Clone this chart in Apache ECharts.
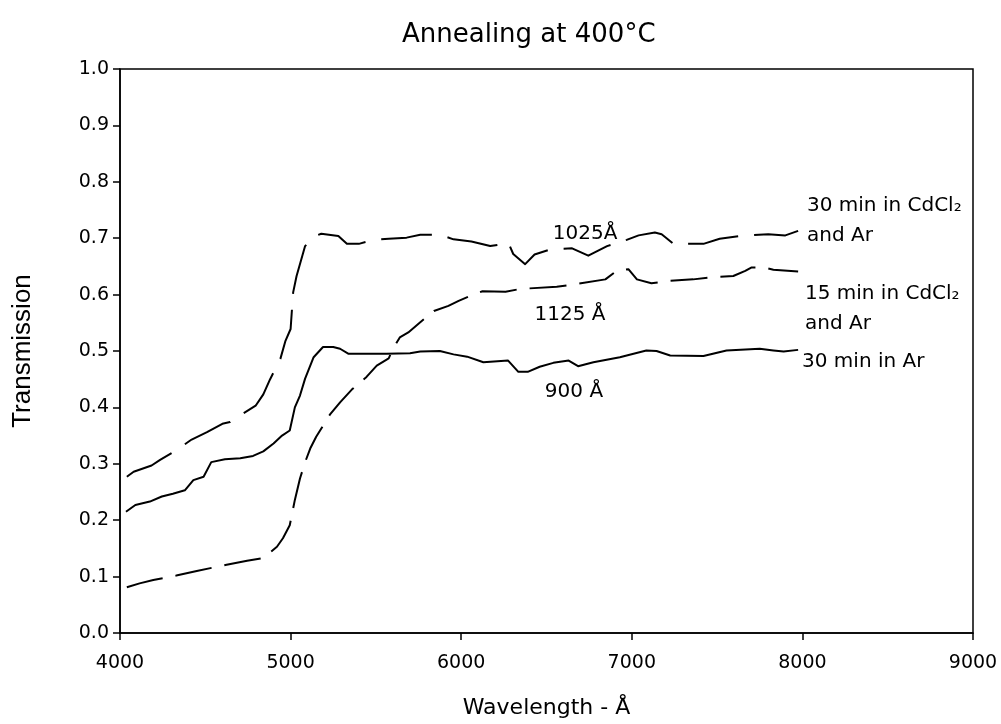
<!DOCTYPE html>
<html>
<head>
<meta charset="utf-8">
<script src="https://cdn.jsdelivr.net/npm/echarts@6/dist/echarts.min.js"></script>
<style>
  html, body { margin: 0; padding: 0; background: #fff; }
  #chart { width: 1001px; height: 724px; }
</style>
</head>
<body>
<div id="chart"></div>
<script>
// Transmission spectra of films annealed at 400 °C (wavelength in Å)

// 30 min in CdCl2 and Ar  (1025 Å)
const wlCdCl30 = [4040, 4080, 4185, 4235, 4330, 4420, 4510, 4600, 4645, 4700, 4795, 4840, 4880, 4940, 4970,
  5000, 5015, 5035, 5085, 5135, 5180, 5280, 5330, 5400, 5485, 5575, 5680, 5760, 5875, 5955, 6060,
  6170, 6230, 6275, 6305, 6375, 6430, 6520, 6650, 6745, 6855, 6970, 7040, 7135, 7175, 7245, 7420,
  7515, 7635, 7800, 7900, 7975];
const trCdCl30 = [0.277, 0.286, 0.297, 0.307, 0.324, 0.343, 0.356, 0.371, 0.374, 0.385, 0.403, 0.423, 0.450, 0.486, 0.518,
  0.539, 0.604, 0.633, 0.686, 0.703, 0.708, 0.704, 0.690, 0.690, 0.697, 0.699, 0.701, 0.706, 0.706, 0.698, 0.694,
  0.686, 0.689, 0.693, 0.672, 0.654, 0.671, 0.680, 0.682, 0.669, 0.686, 0.697, 0.705, 0.710, 0.707, 0.690, 0.690,
  0.699, 0.704, 0.707, 0.705, 0.713];

// 15 min in CdCl2 and Ar  (1125 Å)
const wlCdCl15 = [4040, 4115, 4195, 4330, 4450, 4545, 4625, 4745, 4840, 4920, 4955, 4995, 5025, 5055, 5085,
  5115, 5150, 5230, 5290, 5360, 5445, 5505, 5575, 5600, 5640, 5690, 5760, 5840, 5925, 5985, 6055,
  6125, 6260, 6345, 6560, 6640, 6845, 6910, 6980, 7030, 7115, 7205, 7360, 7475, 7595, 7665, 7700,
  7780, 7830, 7975];
const trCdCl15 = [0.081, 0.088, 0.094, 0.102, 0.110, 0.116, 0.121, 0.128, 0.133, 0.153, 0.168, 0.191, 0.236, 0.274, 0.303,
  0.327, 0.348, 0.387, 0.409, 0.432, 0.454, 0.474, 0.487, 0.504, 0.524, 0.533, 0.551, 0.571, 0.580, 0.589, 0.598,
  0.606, 0.605, 0.610, 0.614, 0.617, 0.627, 0.642, 0.645, 0.627, 0.620, 0.624, 0.627, 0.631, 0.633, 0.642, 0.648,
  0.648, 0.644, 0.641];

// 30 min in Ar  (900 Å)
const wlAr30 = [4035, 4090, 4175, 4245, 4310, 4380, 4430, 4490, 4535, 4615, 4705, 4780, 4840, 4900, 4950,
  4995, 5025, 5055, 5085, 5135, 5190, 5250, 5290, 5340, 5560, 5700, 5760, 5875, 5955, 6035, 6130,
  6275, 6335, 6390, 6460, 6540, 6630, 6685, 6775, 6930, 7085, 7145, 7225, 7420, 7555, 7750, 7830,
  7890, 7975];
const trAr30 = [0.215, 0.227, 0.233, 0.242, 0.247, 0.253, 0.271, 0.277, 0.303, 0.308, 0.310, 0.314, 0.322, 0.336, 0.350,
  0.359, 0.400, 0.421, 0.451, 0.489, 0.507, 0.507, 0.504, 0.495, 0.495, 0.496, 0.499, 0.500, 0.494, 0.490, 0.480,
  0.483, 0.463, 0.463, 0.472, 0.479, 0.483, 0.473, 0.480, 0.489, 0.501, 0.500, 0.492, 0.491, 0.501, 0.504, 0.501,
  0.499, 0.502];

// Text
const titleText = 'Annealing at 400°C';
const xName = 'Wavelength - Å';
const yName = 'Transmission';
const seriesNames = ['30 min in CdCl₂\nand Ar', '15 min in CdCl₂\nand Ar', '30 min in Ar'];
const thicknessNames = ['1025Å', '1125 Å', '900 Å'];

const zip = (xs, ys) => xs.map((x, i) => [x, ys[i]]);

const FONT = 'DejaVu Sans';
const black = '#000';

function lineSeries(name, xs, ys, dash) {
  return {
    type: 'line',
    name: name,
    data: zip(xs, ys),
    showSymbol: false,
    symbol: 'none',
    smooth: false,
    silent: true,
    lineStyle: { color: black, width: 2, type: dash, cap: 'butt', join: 'round' },
    z: 3
  };
}

// Text-only scatter: invisible symbols carrying annotation labels
function textSeries(items, position, lineHeight) {
  return {
    type: 'scatter',
    silent: true,
    symbolSize: 0,
    itemStyle: { opacity: 1, color: black },
    data: items.map(it => ({ value: it.at, label: { formatter: it.text, color: black, opacity: 1 } })),
    label: {
      show: true,
      position: position,
      distance: 0,
      color: black,
      opacity: 1,
      fontFamily: FONT,
      fontSize: 20,
      lineHeight: lineHeight,
      align: position === 'right' ? 'left' : 'center'
    },
    z: 4
  };
}

const chart = echarts.init(document.getElementById('chart'), null, { renderer: 'canvas' });

const option = {
  animation: false,
  backgroundColor: '#fff',
  title: {
    text: titleText,
    left: 397,
    top: 17,
    textStyle: { fontFamily: FONT, fontSize: 26, fontWeight: 'normal', color: black }
  },
  grid: {
    left: 120, right: 28, top: 69, bottom: 89,
    show: true, borderColor: black, borderWidth: 1.5, backgroundColor: 'transparent'
  },
  xAxis: {
    type: 'value',
    min: 4000, max: 9000, interval: 1000,
    name: xName,
    nameLocation: 'middle',
    nameGap: 64,
    nameTextStyle: { fontFamily: FONT, fontSize: 22, color: black },
    axisLine: { show: true, onZero: false, lineStyle: { color: black, width: 1.5 } },
    axisTick: { show: true, inside: false, length: 7, lineStyle: { color: black, width: 1.5 } },
    axisLabel: { margin: 21, fontFamily: FONT, fontSize: 19, color: black, formatter: v => String(v) },
    splitLine: { show: false }
  },
  yAxis: {
    type: 'value',
    min: 0, max: 1, interval: 0.1,
    name: yName,
    nameLocation: 'middle',
    nameGap: 84,
    nameRotate: 90,
    nameTextStyle: { fontFamily: 'Liberation Sans', fontSize: 26, color: black },
    axisLine: { show: true, onZero: false, lineStyle: { color: black, width: 1.5 } },
    axisTick: { show: true, inside: false, length: 7, lineStyle: { color: black, width: 1.5 } },
    axisLabel: { margin: 11, fontFamily: FONT, fontSize: 19, color: black, formatter: v => v.toFixed(1) },
    splitLine: { show: false }
  },
  series: [
    lineSeries(seriesNames[0], wlCdCl30, trCdCl30, [51, 16]),
    lineSeries(seriesNames[1], wlCdCl15, trCdCl15, [37, 13]),
    lineSeries(seriesNames[2], wlAr30, trAr30, 'solid'),
    textSeries([
      { at: [6726, 0.7085], text: thicknessNames[0] },
      { at: [6638, 0.5636], text: thicknessNames[1] },
      { at: [6661, 0.4276], text: thicknessNames[2] }
    ], 'inside', 24),
    textSeries([
      { at: [8027, 0.7306], text: seriesNames[0] },
      { at: [8015, 0.5750], text: seriesNames[1] },
      { at: [7998, 0.4806], text: seriesNames[2] }
    ], 'right', 30)
  ]
};

chart.setOption(option);
</script>
</body>
</html>
